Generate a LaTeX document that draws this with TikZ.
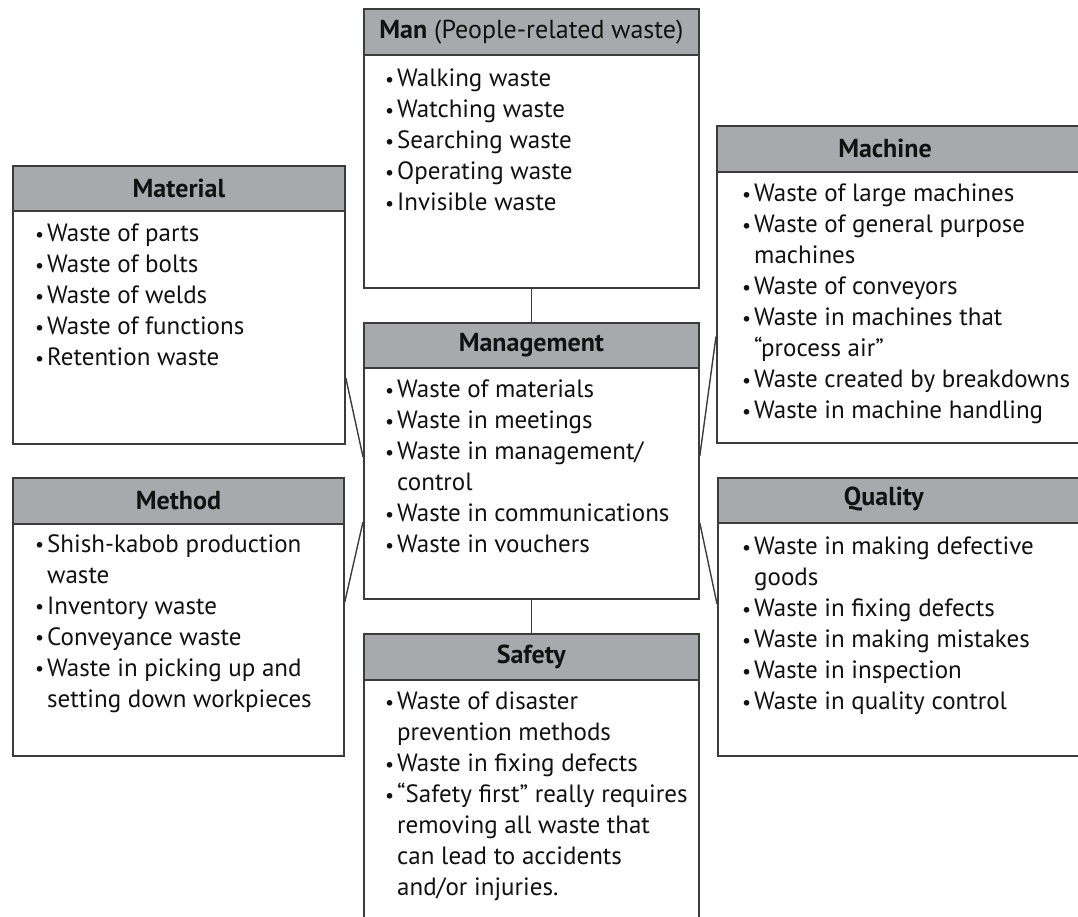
\documentclass[tikz,border=0pt]{standalone}
\usepackage{fontspec}
\setmainfont{PT Sans}
\usetikzlibrary{calc}
\definecolor{hdrgray}{HTML}{A7A9AC}
\definecolor{edgec}{HTML}{3C3C3C}
\definecolor{txtc}{HTML}{111111}
\newcommand\bl{\makebox[12pt][l]{\raisebox{0.8pt}{\fontsize{20}{20}\selectfont\textbullet}}}
\newcommand\ci{\hspace*{12pt}}
\begin{document}
\begin{tikzpicture}[x=1pt,y=-1pt,
  wbox/.style={draw=edgec,line width=1.8pt,fill=white,rectangle,anchor=north west,inner sep=0pt},
  hdr/.style={draw=edgec,line width=1.8pt,fill=hdrgray,rectangle,anchor=north west,inner sep=0pt,minimum height=45pt},
  htxt/.style={font=\fontsize{26}{28}\selectfont,text=txtc,inner sep=0pt},
  body/.style={font=\fontsize{25}{31}\selectfont,text=txtc,align=left,anchor=north west,inner sep=0pt},
  link/.style={draw=edgec,line width=1.4pt}]
\useasboundingbox (0,0) rectangle (1078,917);
\clip (0,0) rectangle (1078,917);

% Man
\node[wbox,minimum width=335pt,minimum height=279pt] (man) at (363,8) {};
\node[hdr,minimum width=335pt,minimum height=46pt] (man-h) at (man.north west) {};
\node[htxt] (man-t) at (man-h) {\textbf{Man} (People-related waste)};
\node[body] (man-b) at (385,69) {\bl Walking waste\\ \bl Watching waste\\ \bl Searching waste\\ \bl Operating waste\\ \bl Invisible waste};

% Management
\node[wbox,minimum width=335pt,minimum height=276pt] (mgt) at (363,322) {};
\node[hdr,minimum width=335pt] (mgt-h) at (mgt.north west) {};
\node[htxt] (mgt-t) at (mgt-h) {\textbf{Management}};
\node[body] (mgt-b) at (385,380) {\bl Waste of materials\\ \bl Waste in meetings\\ \bl Waste in management/\\ \ci control\\ \bl Waste in communications\\ \bl Waste in vouchers};

% Safety
\node[wbox,minimum width=335pt,minimum height=320pt] (saf) at (363,633) {};
\node[hdr,minimum width=335pt,minimum height=46pt] (saf-h) at (saf.north west) {};
\node[htxt] (saf-t) at (saf-h) {\textbf{Safety}};
\node[body] (saf-b) at (385,692) {\bl Waste of disaster\\ \ci prevention methods\\ \bl Waste in fixing defects\\ \bl “Safety first” really requires\\ \ci removing all waste that\\ \ci can lead to accidents\\ \ci and/or injuries.};

% Material
\node[wbox,minimum width=332pt,minimum height=278pt] (mat) at (12,165) {};
\node[hdr,minimum width=332pt] (mat-h) at (mat.north west) {};
\node[htxt] (mat-t) at (mat-h) {\textbf{Material}};
\node[body] (mat-b) at (35,224) {\bl Waste of parts\\ \bl Waste of bolts\\ \bl Waste of welds\\ \bl Waste of functions\\ \bl Retention waste};

% Method
\node[wbox,minimum width=331pt,minimum height=278pt] (met) at (12,477) {};
\node[hdr,minimum width=331pt,minimum height=46pt] (met-h) at (met.north west) {};
\node[htxt] (met-t) at (met-h) {\textbf{Method}};
\node[body] (met-b) at (35,534) {\bl Shish-kabob production\\ \ci waste\\ \bl Inventory waste\\ \bl Conveyance waste\\ \bl Waste in picking up and\\ \ci setting down workpieces};

% Machine
\node[wbox,minimum width=400pt,minimum height=317pt] (mac) at (716,125) {};
\node[hdr,minimum width=400pt,minimum height=46pt] (mac-h) at (mac.north west) {};
\node[htxt] (mac-t) at (885,148) {\textbf{Machine}};
\node[body] (mac-b) at (742,184) {\bl Waste of large machines\\ \bl Waste of general purpose\\ \ci machines\\ \bl Waste of conveyors\\ \bl Waste in machines that\\ \ci “process air”\\ \bl Waste created by breakdowns\\ \bl Waste in machine handling};

% Quality
\node[wbox,minimum width=400pt,minimum height=278pt] (qua) at (717,477) {};
\node[hdr,minimum width=400pt] (qua-h) at (qua.north west) {};
\node[htxt] (qua-t) at (884,499.5) {\textbf{Quality}};
\node[body] (qua-b) at (742,537) {\bl Waste in making defective\\ \ci goods\\ \bl Waste in fixing defects\\ \bl Waste in making mistakes\\ \bl Waste in inspection\\ \bl Waste in quality control};

% connectors
\draw[link] (man.south) -- (mgt.north);
\draw[link] (mgt.south) -- (saf.north);
\draw[link] ([yshift=-73pt]mat.east) -- ([yshift=4pt]mgt.west);
\draw[link] ([yshift=15pt]met.east) -- ([yshift=-61pt]mgt.west);
\draw[link] ([yshift=-52pt]mac.west) -- ([yshift=5pt]mgt.east);
\draw[link] ([yshift=13pt]qua.west) -- ([yshift=-62pt]mgt.east);
\end{tikzpicture}
\end{document}
